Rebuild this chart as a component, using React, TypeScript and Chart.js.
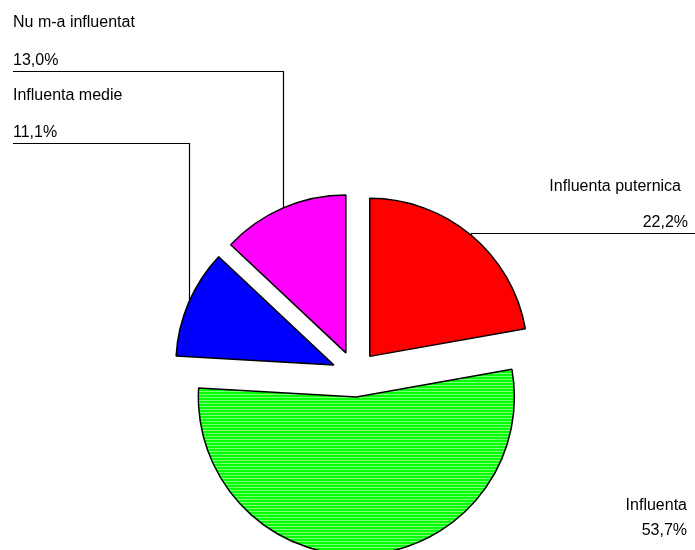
import React, { useEffect, useRef } from 'react';
import { Chart, registerables } from 'chart.js';

Chart.register(...registerables);

// ---- data ----
const categories = ['Influenta puternica', 'Influenta', 'Influenta medie', 'Nu m-a influentat'];
const values = [22.2, 53.7, 11.1, 13.0];
const colors = ['#ff0000', '#00ff00', '#0000ff', '#ff00ff'];
const hatchColors = ['#ff4040', '#80ff80', '#4040ff', '#ff40ff'];

const fmt = (v: number) => v.toFixed(1).replace('.', ',') + '%';

// ---- label layout (positions of text blocks) ----
type Lbl = { side: 'left' | 'right'; x: number; vx: number; nameY: number; valueY: number; lineY: number | null };
const labelLayout: Lbl[] = [
  { side: 'right', x: 681, vx: 688, nameY: 191, valueY: 227, lineY: 233 },
  { side: 'right', x: 687, vx: 687, nameY: 510, valueY: 535, lineY: null },
  { side: 'left', x: 13, vx: 13, nameY: 100, valueY: 137, lineY: 143 },
  { side: 'left', x: 13, vx: 13, nameY: 27, valueY: 65, lineY: 71 },
];

const OFFSET = 92; // chart.js draws offset/4 in v4
const RADIUS = 158;

function makePattern(base: string, line: string): CanvasPattern | string {
  const c = document.createElement('canvas');
  c.width = 1;
  c.height = 3;
  const g = c.getContext('2d');
  if (!g) return base;
  g.fillStyle = base;
  g.fillRect(0, 0, c.width, c.height);
  g.fillStyle = line;
  g.fillRect(0, 2, 1, 1);
  const p = g.createPattern(c, 'repeat');
  return p || base;
}

// Chart.js enlarges slices and trims their angle when offset is used; undo that so
// every slice keeps the same radius and its true angular share.
const radiusFix = {
  id: 'radiusFix',
  afterDatasetUpdate(chart: any, args: any) {
    const meta = args.meta || chart.getDatasetMeta(args.index);
    meta.data.forEach((el: any) => {
      const off = ((el.options && el.options.offset) || 0) / 4;
      const fix = 1 - Math.sin(Math.min(Math.PI, el.circumference || 0));
      const ro = off * fix;
      el.outerRadius = el.outerRadius - ro;
      const drawnR = el.outerRadius + ro;
      if (drawnR > 0 && ro > 0) {
        const half = ro / Math.PI / drawnR / 2;
        el.startAngle -= half;
        el.endAngle += half;
      }
    });
  },
};

const labelsPlugin = {
  id: 'pieLabels',
  afterDraw(chart: any) {
    const ctx = chart.ctx as CanvasRenderingContext2D;
    const meta = chart.getDatasetMeta(0);
    ctx.save();
    ctx.font = '16px "Liberation Sans", Arial, sans-serif';
    ctx.fillStyle = '#000';
    ctx.strokeStyle = '#000';
    ctx.lineWidth = 1.2;
    meta.data.forEach((el: any, i: number) => {
      const L = labelLayout[i];
      const mid = (el.startAngle + el.endAngle) / 2;
      const off = ((el.options && el.options.offset) || 0) / 4;
      const fix = 1 - Math.sin(Math.min(Math.PI, el.circumference || 0));
      const r = el.outerRadius + off * fix;
      const px = Math.round(el.x + Math.cos(mid) * (off + r)) + 0.5;
      const py = el.y + Math.sin(mid) * (off + r);
      if (L.lineY != null) {
        const ly = L.lineY + 0.5;
        ctx.beginPath();
        ctx.moveTo(px, py);
        ctx.lineTo(px, ly);
        ctx.lineTo(L.side === 'left' ? L.x : chart.width, ly);
        ctx.stroke();
      }
      ctx.textAlign = L.side === 'left' ? 'left' : 'right';
      ctx.textBaseline = 'alphabetic';
      ctx.fillText(categories[i], L.x, L.nameY);
      ctx.fillText(fmt(values[i]), L.vx, L.valueY);
    });
    ctx.restore();
  },
};

export default function App() {
  const ref = useRef<HTMLCanvasElement | null>(null);
  useEffect(() => {
    if (!ref.current) return;
    const bgs: any[] = colors.map((c, i) => (i === 1 ? makePattern(c, hatchColors[i]) : c));
    const chart = new Chart(ref.current, {
      type: 'pie',
      data: {
        labels: categories,
        datasets: [
          {
            data: values,
            backgroundColor: bgs,
            borderColor: '#000000',
            borderWidth: 1.5,
            offset: OFFSET,
            radius: RADIUS,
          } as any,
        ],
      },
      options: {
        responsive: false,
        animation: false,
        events: [],
        layout: { padding: { left: 15, top: 198, right: 0, bottom: 0 } },
        plugins: {
          legend: { display: false },
          tooltip: { enabled: false },
        },
      },
      plugins: [radiusFix, labelsPlugin],
    });
    return () => chart.destroy();
  }, []);
  return (
    <div style={{ position: 'fixed', left: 0, top: 0, width: 695, height: 550, background: '#fff' }}>
      <canvas ref={ref} width={695} height={550} style={{ display: 'block' }} />
    </div>
  );
}
